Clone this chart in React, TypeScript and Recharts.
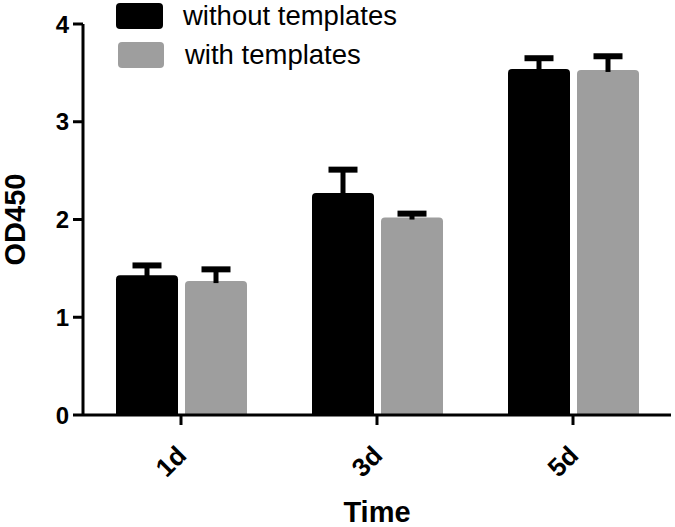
import React from 'react';
import { BarChart, Bar, XAxis, YAxis } from 'recharts';

const days = ['1d', '3d', '5d'];
const withoutTemplates = [1.43, 2.27, 3.54];
const withoutErr = [0.1, 0.24, 0.11];
const withTemplates = [1.37, 2.02, 3.53];
const withErr = [0.12, 0.04, 0.14];
const yTicks = [0, 1, 2, 3, 4];
const legendLabels = ['without templates', 'with templates'];

const data = days.map((d, i) => ({
  day: d,
  without: withoutTemplates[i],
  withoutErr: withoutErr[i],
  with: withTemplates[i],
  withErr: withErr[i],
}));

const FONT = '"Liberation Sans", Arial, sans-serif';

function makeShape(errKey: string) {
  return (props: any) => {
    const { x, y, width, height, fill, payload, value } = props;
    const v = Array.isArray(value) ? value[1] - value[0] : value;
    const r = 4;
    const errPx = v ? (height / v) * payload[errKey] : 0;
    const cx = x + width / 2;
    const top = y - errPx;
    const path = `M${x},${y + height} L${x},${y + r} Q${x},${y} ${x + r},${y} L${x + width - r},${y} Q${x + width},${y} ${x + width},${y + r} L${x + width},${y + height} Z`;
    return (
      <g>
        <path d={path} fill={fill} />
        <line x1={cx} x2={cx} y1={y + 2} y2={top} stroke="#000" strokeWidth={5} />
        <line x1={cx - 14.5} x2={cx + 14.5} y1={top} y2={top} stroke="#000" strokeWidth={6} />
      </g>
    );
  };
}

const XTick = (props: any) => {
  const { x, y, payload } = props;
  const ax = x + 7;
  const ay = y + 30;
  return (
    <text x={ax} y={ay} transform={`rotate(-45, ${ax}, ${ay})`} textAnchor="end" fontFamily={FONT} fontWeight="bold" fontSize={26} fill="#000">
      {payload.value}
    </text>
  );
};

export default function App() {
  return (
    <div style={{ position: 'absolute', left: 0, top: 0, width: 675, height: 527, background: '#fff' }}>
      <BarChart
        width={675}
        height={527}
        data={data}
        margin={{ top: 24, right: 4, left: 0, bottom: 0 }}
        barSize={62}
        barGap={7}
      >
        <XAxis
          dataKey="day"
          height={112}
          tick={<XTick />}
          tickSize={10}
          axisLine={{ stroke: '#000', strokeWidth: 3 }}
          tickLine={{ stroke: '#000', strokeWidth: 3 }}
          label={{ value: 'Time', position: 'insideBottom', offset: 5, fontFamily: FONT, fontWeight: 'bold', fontSize: 29, fill: '#000' }}
        />
        <YAxis
          width={83}
          domain={[0, 4]}
          ticks={yTicks}
          tickSize={10}
          tickMargin={4}
          axisLine={{ stroke: '#000', strokeWidth: 3 }}
          tickLine={{ stroke: '#000', strokeWidth: 3 }}
          tick={{ fontFamily: FONT, fontWeight: 'bold', fontSize: 24, fill: '#000' }}
          label={{ value: 'OD450', angle: -90, position: 'insideLeft', offset: 15, fontFamily: FONT, fontWeight: 'bold', fontSize: 29, fill: '#000', style: { textAnchor: 'middle' } }}
        />
        <Bar dataKey="without" name={legendLabels[0]} fill="#000" isAnimationActive={false} shape={makeShape('withoutErr')} />
        <Bar dataKey="with" name={legendLabels[1]} fill="#9e9e9e" isAnimationActive={false} shape={makeShape('withErr')} />
      </BarChart>
      <svg width={320} height={72} style={{ position: 'absolute', left: 116, top: 0 }}>
        <rect x={0} y={3} width={47} height={26} rx={4} fill="#000" />
        <text x={67} y={25} fontFamily={FONT} fontSize={27.5} fill="#000">{legendLabels[0]}</text>
        <rect x={2} y={42} width={46} height={26} rx={4} fill="#9e9e9e" />
        <text x={69} y={64} fontFamily={FONT} fontSize={27.5} fill="#000">{legendLabels[1]}</text>
      </svg>
    </div>
  );
}
